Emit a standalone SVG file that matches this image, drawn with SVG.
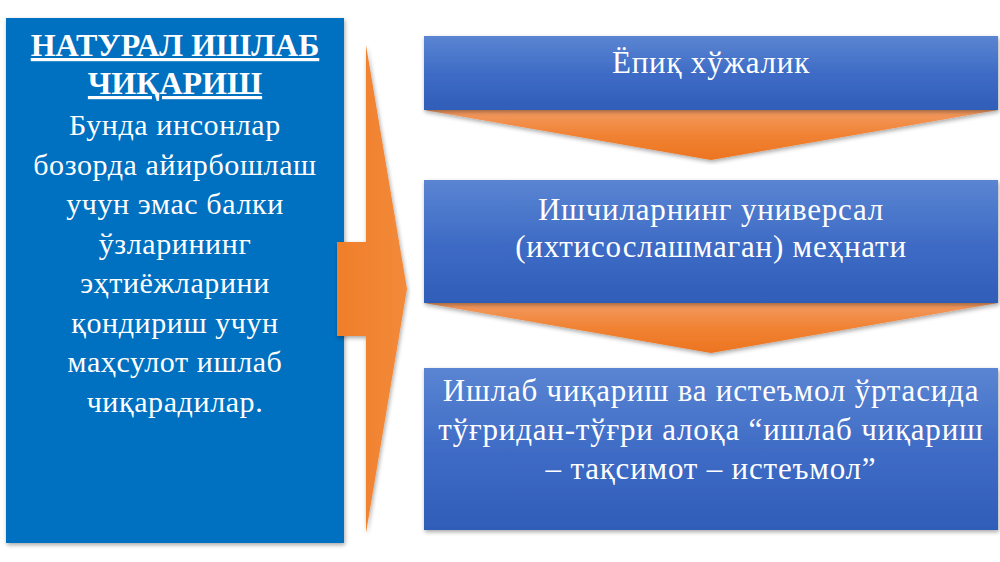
<svg xmlns="http://www.w3.org/2000/svg" width="1000" height="562" viewBox="0 0 1000 562">
<style>
.t{font-family:'Liberation Serif','DejaVu Serif',serif;fill:#ffffff;text-anchor:middle}
.title{font-size:32px;font-weight:bold;text-decoration:underline}
.body{font-size:30px;letter-spacing:0.6px}
.rt{font-size:31px;letter-spacing:0.8px}
</style>
<defs>
<linearGradient id="blueG" x1="0" y1="0" x2="0" y2="1">
<stop offset="0" stop-color="#5A85D2"/>
<stop offset="0.5" stop-color="#3F6CC6"/>
<stop offset="1" stop-color="#2F5DB8"/>
</linearGradient>
<linearGradient id="orG" x1="0" y1="0" x2="0" y2="1">
<stop offset="0" stop-color="#F29A62"/>
<stop offset="0.5" stop-color="#F08233"/>
<stop offset="1" stop-color="#EC7420"/>
</linearGradient>
<linearGradient id="orA" x1="0" y1="0" x2="1" y2="0">
<stop offset="0" stop-color="#F07E2A"/>
<stop offset="1" stop-color="#F28A3A"/>
</linearGradient>
<filter id="sh" x="-5%" y="-5%" width="110%" height="115%">
<feDropShadow dx="1" dy="2" stdDeviation="2" flood-color="#000" flood-opacity="0.35"/>
</filter>
</defs>

<g id="left-box">
<rect x="6" y="18" width="338" height="525" fill="#0070C0" filter="url(#sh)"/>
<text class="t title" x="175" y="56">НАТУРАЛ ИШЛАБ</text>
<text class="t title" x="175" y="94">ЧИҚАРИШ</text>
<text class="t body" x="175" y="135">Бунда инсонлар</text>
<text class="t body" x="175" y="174.5">бозорда айирбошлаш</text>
<text class="t body" x="175" y="214">учун эмас балки</text>
<text class="t body" x="175" y="253.5">ўзларининг</text>
<text class="t body" x="175" y="293">эҳтиёжларини</text>
<text class="t body" x="175" y="332.5">қондириш учун</text>
<text class="t body" x="175" y="372">маҳсулот ишлаб</text>
<text class="t body" x="175" y="411.5">чиқарадилар.</text>
</g>

<g id="connectors">
<polygon id="right-arrow" points="337,242 366,242 366,45 407,289 366,533 366,336 337,336" fill="url(#orA)" filter="url(#sh)"/>
<polygon id="chevron-1" points="424,110 998,110 711,160" fill="url(#orG)" filter="url(#sh)"/>
<polygon id="chevron-2" points="424,303 998,303 711,353" fill="url(#orG)" filter="url(#sh)"/>
</g>

<g id="box-1">
<rect x="424" y="36" width="574" height="74" fill="url(#blueG)" filter="url(#sh)"/>
<text class="t rt" x="711" y="73">Ёпиқ хўжалик</text>
</g>

<g id="box-2">
<rect x="424" y="180" width="574" height="123" fill="url(#blueG)" filter="url(#sh)"/>
<text class="t rt" x="711" y="220">Ишчиларнинг универсал</text>
<text class="t rt" x="711" y="257">(ихтисослашмаган) меҳнати</text>
</g>

<g id="box-3">
<rect x="424" y="368" width="574" height="162" fill="url(#blueG)" filter="url(#sh)"/>
<text class="t rt" x="711" y="401">Ишлаб чиқариш ва истеъмол ўртасида</text>
<text class="t rt" x="711" y="440">тўғридан-тўғри алоқа “ишлаб чиқариш</text>
<text class="t rt" x="711" y="479">– тақсимот – истеъмол”</text>
</g>
</svg>
